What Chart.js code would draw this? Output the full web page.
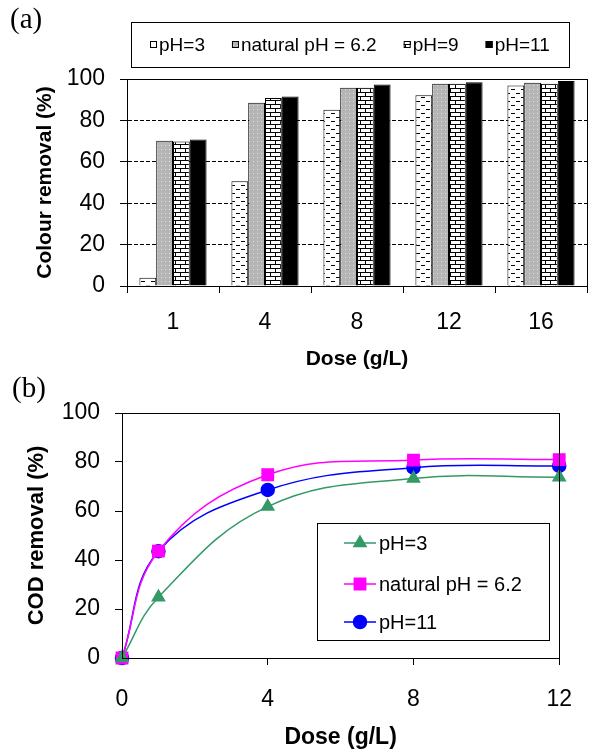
<!DOCTYPE html>
<html>
<head>
<meta charset="utf-8">
<script src="https://cdn.jsdelivr.net/npm/chart.js@4.4.0/dist/chart.umd.min.js"></script>
<style>
  body { margin: 0; background: #fff; }
  #wrap { position: relative; width: 593px; height: 749px; overflow: hidden; }
  .panel { position: absolute; left: 0; width: 593px; }
  .tag { position: absolute; font-family: "Liberation Serif", "Times New Roman", serif; font-size: 29px; color: #000; }
</style>
</head>
<body>
<div id="wrap">
  <div class="panel" style="top:0;height:370px"><canvas id="chartA"></canvas></div>
  <div class="panel" style="top:370px;height:379px"><canvas id="chartB"></canvas></div>
  <div class="tag" style="left:10px;top:2px">(a)</div>
  <div class="tag" style="left:12px;top:371px">(b)</div>
</div>
<script>
// (a) colour removal vs dose, bars per pH
const doseLabels = ['1', '4', '8', '12', '16'];
const colourPH3 = [4, 50.6, 85.2, 92.1, 96.8];
const colourNatural = [70.2, 88.5, 95.8, 97.7, 98.2];
const colourPH9 = [69.8, 90.8, 95.8, 97.7, 97.7];
const colourPH11 = [70.8, 91.5, 97.3, 98.4, 99.0];

// (b) COD removal vs dose, lines per pH
const codDose = [0, 1, 4, 8, 12];
const codPH3 = [0, 24.8, 61.8, 73.3, 73.8];
const codNatural = [0, 43.6, 74.8, 80.8, 81.0];
const codPH11 = [0, 43.6, 68.6, 77.7, 78.4];

const sans = '"Liberation Sans", Arial, sans-serif';
Chart.defaults.font.family = sans;
Chart.defaults.color = '#000';

// fill patterns like the old Excel bars
function makePattern(kind) {
    const c = document.createElement('canvas');
    const g = c.getContext('2d');
    if (kind === 'dash') {
        c.width = 10; c.height = 8;
        g.fillStyle = '#fff'; g.fillRect(0, 0, 10, 8);
        g.fillStyle = '#000';
        g.fillRect(1, 1, 4, 1);
        g.fillRect(6, 5, 4, 1);
    } else if (kind === 'dots') {
        c.width = 4; c.height = 4;
        g.fillStyle = '#b5b5b5'; g.fillRect(0, 0, 4, 4);
        g.fillStyle = '#dedede'; g.fillRect(1, 1, 1, 1);
    } else if (kind === 'brick') {
        c.width = 10; c.height = 8;
        g.fillStyle = '#fff'; g.fillRect(0, 0, 10, 8);
        g.fillStyle = '#000';
        g.fillRect(0, 0, 10, 1);
        g.fillRect(0, 4, 10, 1);
        g.fillRect(0, 0, 1, 4);
        g.fillRect(5, 4, 1, 4);
    }
    return document.getElementById('chartA').getContext('2d').createPattern(c, 'repeat');
}

// box round the plot area
const frame = {
    id: 'frame',
    afterDraw(chart) {
        const { ctx, chartArea: a } = chart;
        ctx.save();
        ctx.strokeStyle = '#000';
        ctx.lineWidth = 1;
        ctx.strokeRect(Math.round(a.left) + 0.5, Math.round(a.top) + 0.5,
            Math.round(a.right - a.left), Math.round(a.bottom - a.top));
        ctx.restore();
    }
};

// boxed legend on top of chart (a)
const legendA = {
    id: 'legendA',
    afterDraw(chart) {
        const ctx = chart.ctx;
        const box = { l: 131, t: 22, r: 569, b: 67 };
        ctx.save();
        ctx.strokeStyle = '#000';
        ctx.lineWidth = 1;
        ctx.strokeRect(box.l + 0.5, box.t + 0.5, box.r - box.l, box.b - box.t);
        ctx.font = '19px ' + sans;
        ctx.textBaseline = 'middle';
        const sw = 7, gap = 2, sep = 27;
        const items = chart.data.datasets.map(ds => ({ ds, w: sw + gap + ctx.measureText(ds.label).width }));
        const total = items.reduce((s, it) => s + it.w, 0) + sep * (items.length - 1);
        let x = Math.round((box.l + box.r) / 2 - total / 2);
        const y = Math.round((box.t + box.b) / 2);
        items.forEach(it => {
            ctx.fillStyle = it.ds.backgroundColor;
            ctx.fillRect(x, y - 4, sw, sw);
            ctx.strokeStyle = '#000';
            ctx.strokeRect(x + 0.5, y - 3.5, sw - 1, sw - 1);
            ctx.fillStyle = '#000';
            ctx.fillText(it.ds.label, x + sw + gap, y + 1);
            x += it.w + sep;
        });
        ctx.restore();
    }
};

// boxed legend inside chart (b)
const legendB = {
    id: 'legendB',
    afterDraw(chart) {
        const ctx = chart.ctx;
        const box = { l: 317, t: 153, r: 549, b: 270 };
        const rows = [173, 214, 252];
        ctx.save();
        ctx.strokeStyle = '#000';
        ctx.lineWidth = 1;
        ctx.strokeRect(box.l + 0.5, box.t + 0.5, box.r - box.l, box.b - box.t);
        ctx.font = '20px ' + sans;
        ctx.textBaseline = 'middle';
        chart.data.datasets.forEach((ds, i) => {
            const y = rows[i];
            ctx.strokeStyle = ds.borderColor;
            ctx.lineWidth = 1.5;
            ctx.beginPath();
            ctx.moveTo(344, y);
            ctx.lineTo(376, y);
            ctx.stroke();
            ctx.fillStyle = ds.pointBackgroundColor;
            ctx.strokeStyle = ds.pointBorderColor;
            Chart.helpers.drawPoint(ctx, { pointStyle: ds.pointStyle, radius: ds.pointRadius, rotation: 0, borderWidth: 1 }, 360, y);
            ctx.fillStyle = '#000';
            ctx.fillText(ds.label, 379, y + 1);
        });
        ctx.restore();
    }
};

const tickFont = { size: 23 };

new Chart(document.getElementById('chartA'), {
    type: 'bar',
    data: {
        labels: doseLabels,
        datasets: [
            { label: 'pH=3', data: colourPH3, backgroundColor: makePattern('dash') },
            { label: 'natural pH = 6.2', data: colourNatural, backgroundColor: makePattern('dots') },
            { label: 'pH=9', data: colourPH9, backgroundColor: makePattern('brick') },
            { label: 'pH=11', data: colourPH11, backgroundColor: '#000' }
        ].map(ds => ({ ...ds, borderColor: '#000', borderWidth: 1, categoryPercentage: 0.73, barPercentage: 1 }))
    },
    options: {
        responsive: true,
        maintainAspectRatio: false,
        animation: false,
        layout: { padding: { left: 30, top: 79, right: 6, bottom: 0 } },
        plugins: { legend: { display: false }, tooltip: { enabled: false } },
        scales: {
            x: {
                afterFit(scale) { scale.height = 84; },
                grid: { offset: true, drawOnChartArea: false, tickLength: 7, tickColor: '#000' },
                border: { color: '#000' },
                ticks: { font: tickFont, padding: 16, color: '#000' },
                title: { display: true, text: 'Dose (g/L)', font: { size: 21, weight: 'bold', lineHeight: 1 }, padding: { top: 0, bottom: 0 } }
            },
            y: {
                min: 0, max: 100,
                afterFit(scale) { scale.width = 97; },
                grid: {
                    color: c => (c.tick && (c.tick.value === 0 || c.tick.value === 100)) ? 'rgba(0,0,0,0)' : '#000',
                    tickColor: '#000', tickLength: 7
                },
                border: { color: '#000', dash: [4, 2] },
                ticks: { stepSize: 20, font: tickFont, padding: 15, color: '#000' },
                title: { display: true, text: 'Colour removal (%)', font: { size: 21, weight: 'bold', lineHeight: 1 }, padding: { top: 5, bottom: 0 } }
            }
        }
    },
    plugins: [frame, legendA]
});

function lineSet(label, ys, color, style, radius) {
    return {
        label,
        data: codDose.map((x, i) => ({ x, y: ys[i] })),
        borderColor: color,
        backgroundColor: color,
        pointBackgroundColor: color,
        pointBorderColor: color,
        pointStyle: style,
        pointRadius: radius,
        borderWidth: 1.5,
        tension: 0.4,
        clip: false
    };
}

new Chart(document.getElementById('chartB'), {
    type: 'line',
    data: {
        datasets: [
            lineSet('pH=3', codPH3, '#339966', 'triangle', 7),
            lineSet('natural pH = 6.2', codNatural, '#ff00ff', 'rect', 8),
            lineSet('pH=11', codPH11, '#0000ff', 'circle', 6.5)
        ]
    },
    options: {
        responsive: true,
        maintainAspectRatio: false,
        animation: false,
        layout: { padding: { left: 20, top: 43, right: 18, bottom: 0 } },
        plugins: { legend: { display: false }, tooltip: { enabled: false } },
        scales: {
            x: {
                type: 'linear', min: 0, max: 12,
                afterFit(scale) { scale.height = 91; },
                grid: { drawOnChartArea: false, tickLength: 7, tickColor: '#000' },
                border: { color: '#000' },
                ticks: { stepSize: 4, font: tickFont, padding: 21, color: '#000' },
                title: { display: true, text: 'Dose (g/L)', font: { size: 23, weight: 'bold', lineHeight: 1 }, padding: { top: 0, bottom: 0 } }
            },
            y: {
                min: 0, max: 100,
                afterFit(scale) { scale.width = 102; },
                grid: { drawOnChartArea: false, tickLength: 7, tickColor: '#000' },
                border: { color: '#000' },
                ticks: { stepSize: 20, font: tickFont, padding: 15, color: '#000' },
                title: { display: true, text: 'COD removal (%)', font: { size: 22, weight: 'bold', lineHeight: 1 }, padding: { top: 6, bottom: 0 } }
            }
        }
    },
    plugins: [frame, legendB]
});
</script>
</body>
</html>
